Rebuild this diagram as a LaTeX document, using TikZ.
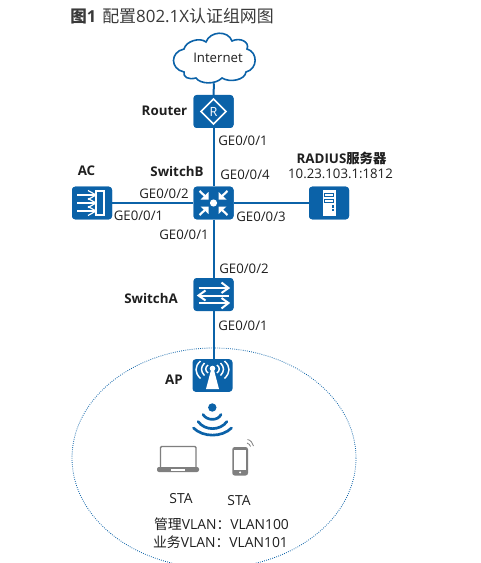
\documentclass[tikz,border=0pt]{standalone}
\usepackage{fontspec}
\setmainfont{Open Sans}
\newfontfamily\cjk{Noto Sans CJK SC}
\definecolor{hw}{HTML}{0B62A8}
\definecolor{txt}{HTML}{1F1F1F}
\definecolor{titlec}{HTML}{3A3A3A}
\definecolor{stag}{HTML}{7F7F7F}
\tikzset{
  x=0.75pt,y=-0.75pt,
  device/.style={fill=hw,rounded corners=2.4pt,minimum width=30pt,minimum height=24.5pt,inner sep=0pt},
  link/.style={draw=hw,line width=1.5pt},
  lab/.style={font=\fontsize{9.9pt}{11pt}\selectfont,text=txt,inner sep=0pt},
  vlab/.style={font=\fontsize{10.4pt}{12pt}\selectfont,text=txt,inner sep=0pt},
  blab/.style={font=\fontsize{10pt}{11pt}\selectfont\bfseries,text=txt,inner sep=0pt},
  glyph/.style={draw=white,line width=1.3pt,fill=none},
  gray/.style={draw=stag,line width=1.1pt,fill=none},
  wave/.style={draw=hw,line width=2pt,line cap=round,fill=none}
}
\begin{document}
\begin{tikzpicture}
\useasboundingbox (0,0) rectangle (480,563);
\fill[white] (0,0) rectangle (480,563);
\begin{scope}
\clip (0,0) rectangle (480,563);
\draw[hw,line width=0.6pt,densely dotted] (214,458) ellipse [x radius=142,y radius=110];
\end{scope}

% nodes
\node[inner sep=0pt,minimum width=61.5pt,minimum height=37.5pt] (inet) at (214,58) {};
\node[device] (router) at (213.5,111.5) {};
\node[device] (swb) at (213.5,203) {};
\node[device] (ac) at (92,203) {};
\node[device] (srv) at (329,203) {};
\node[device] (swa) at (213.5,294.5) {};
\node[device] (ap) at (212.5,375.5) {};

% connectors
\draw[link] (inet.south) -- (router.north);
\draw[link] (router) -- (swb);
\draw[link] (swb) -- (swa);
\draw[link] (swa.south) -- (swa.south |- ap.north);
\draw[link] (ac) -- (swb);
\draw[link] (swb) -- (srv);
% boxes above the lines
\fill[hw,rounded corners=2.4pt] (193.5,95) rectangle (233.5,128);
\fill[hw,rounded corners=2.4pt] (193.5,186.7) rectangle (233.5,219.3);
\fill[hw,rounded corners=2.4pt] (72,186.7) rectangle (112,219.3);
\fill[hw,rounded corners=2.4pt] (309,186.7) rectangle (349,219.3);
\fill[hw,rounded corners=2.4pt] (193.5,278) rectangle (233.5,311);

% cloud
\draw[hw,line width=1.2pt,fill=white]
 (184,72) .. controls (170,69) and (170,52) .. (184,49)
 .. controls (186,41) and (200,37) .. (206,42)
 .. controls (210,31) and (228,30) .. (232,41)
 .. controls (240,37) and (250,42) .. (247,49)
 .. controls (258,52) and (258,69) .. (246,72)
 .. controls (245,80) and (230,83) .. (222,78)
 .. controls (215,85) and (200,84) .. (196,78)
 .. controls (188,80) and (183,77) .. (184,72) -- cycle;
\node[lab] at (218,58) {Internet};

% router glyph
\begin{scope}[shift={(router.center)}]
\draw[glyph,line width=1.2pt] (0,-12.5) -- (12.5,0) -- (0,12.5) -- (-12.5,0) -- cycle;
\node[inner sep=0pt,text=white,font=\fontsize{9.5pt}{10pt}\selectfont] at (0,0) {R};
\end{scope}

% SwitchB glyph
\begin{scope}[shift={(swb.center)}]
\fill[white] (0,0) circle (3.6);
\foreach \sx/\sy in {1/1,-1/1,1/-1,-1/-1}{
  \draw[white,line width=1.6pt] (\sx*14,\sy*12) -- (\sx*7,\sy*5.5);
  \fill[white] (\sx*5,\sy*3.5) -- (\sx*13,\sy*3.5) -- (\sx*5,\sy*11) -- cycle;
}
\end{scope}

% AC glyph
\begin{scope}[shift={(ac.center)}]
\draw[white,line width=1.2pt] (4,-12) rectangle (12,12);
\foreach \yy in {-8,0,8}{
  \draw[white,line width=1.2pt] (-15,\yy) -- (4,\yy);
  \draw[white,line width=0.9pt] (-4,\yy-4.5) -- (4,\yy) -- (-4,\yy+4.5);
}
\end{scope}

% server glyph
\begin{scope}[shift={(srv.center)}]
\fill[white] (-6.5,-13) rectangle (6.5,12.5);
\draw[hw,line width=0.8pt] (-4.5,-9.5) rectangle (4.5,-6.5);
\draw[hw,line width=0.8pt] (-4.5,-3.5) rectangle (4.5,-0.5);
\fill[hw] (2.5,2) rectangle (5,4.5);
\fill[hw] (2.5,6) rectangle (5,8);
\end{scope}

% SwitchA glyph
\begin{scope}[shift={(swa.center)}]
\draw[white,line width=1.5pt] (-15,-6.5) -- (14,-6.5);
\draw[white,line width=1.5pt] (8,-12) -- (15,-6.5) -- (8,-1.5);
\draw[white,line width=1.5pt] (15,1) -- (-14,1);
\draw[white,line width=1.5pt] (-8,-4) -- (-15,1) -- (-8,6);
\draw[white,line width=1.5pt] (-15,8.5) -- (14,8.5);
\draw[white,line width=1.5pt] (8,3.5) -- (15,8.5) -- (8,14);
\end{scope}

% AP glyph
\begin{scope}[shift={(ap.center)}]
\fill[white] (0,-7) circle (2.8);
\fill[white] (-1.6,-5) -- (1.6,-5) -- (6.5,13.5) -- (-6.5,13.5) -- cycle;
\foreach \s in {1,-1}{
  \draw[white,line width=1.1pt] (\s*4.5,-10.5) .. controls (\s*7.5,-8) and (\s*7.5,-5) .. (\s*4.5,-2.5);
  \draw[white,line width=1.1pt] (\s*8,-12.5) .. controls (\s*12,-8.5) and (\s*12,-4) .. (\s*8,0);
  \draw[white,line width=1.1pt] (\s*12,-14.5) .. controls (\s*18,-9) and (\s*18,-3) .. (\s*12,3);
}
\end{scope}

% wifi
\fill[hw] (212.3,407.5) circle (4.2);
\draw[wave] (203,414.5) .. controls (207,421) and (218,421) .. (221,414.5);
\draw[wave] (198,421.5) .. controls (205,431) and (220,431) .. (227,421.5);
\draw[wave] (193.5,428) .. controls (203,437.5) and (222,437.5) .. (231.5,428);

% laptop
\draw[gray,rounded corners=0.8pt] (160.5,467) -- (160.5,446.5) -- (196,446.5) -- (196,467);
\fill[stag,rounded corners=1.5pt] (157,467) rectangle (199,472);
\fill[white] (171,468.5) rectangle (185,470.5);

% phone
\fill[stag,rounded corners=1.8pt] (232.3,447) rectangle (248,475.5);
\fill[white] (234,450) rectangle (246.3,469.5);
\fill[white] (240.1,472.4) circle (1.1);
\draw[stag,line width=0.6pt] (247,443) .. controls (249,443.5) and (250,445) .. (250.5,446.5);
\draw[stag,line width=0.6pt] (247.5,439.5) .. controls (250.5,440) and (253,443) .. (253.5,446);

% title
\node[anchor=west,inner sep=0pt,text=titlec,font=\fontsize{12.4pt}{14pt}\selectfont\bfseries] (ttl) at (70,16.5) {{\cjk\bfseries 图}1};
\node[anchor=west,inner sep=0pt,text=titlec,font=\fontsize{12.7pt}{15pt}\selectfont] (ttl2) at (102,16.5) {{\cjk 配置}802.1X{\cjk 认证组网图}};

% labels
\node[blab] at (164.5,110.5) {Router};
\node[blab] at (86.5,171) {AC};
\node[blab] at (177,171) {SwitchB};
\node[blab] at (341.5,158) {RADIUS{\cjk\bfseries 服务器}};
\node[lab] at (340.5,174) {10.23.103.1:1812};
\node[blab] at (151,298) {SwitchA};
\node[blab] at (174,380) {AP};
\node[lab] at (243,141) {GE0/0/1};
\node[lab] at (245,175) {GE0/0/4};
\node[lab] at (164,194) {GE0/0/2};
\node[lab] at (138.5,216) {GE0/0/1};
\node[lab] at (261,217) {GE0/0/3};
\node[lab] at (184,235) {GE0/0/1};
\node[lab] at (244,269) {GE0/0/2};
\node[lab] at (243,326) {GE0/0/1};
\node[vlab] at (181,499) {STA};
\node[vlab] at (239,501) {STA};
\node[vlab] at (221.5,524) {{\cjk 管理}VLAN{\cjk ：}VLAN100};
\node[vlab] at (220.5,542) {{\cjk 业务}VLAN{\cjk ：}VLAN101};
\end{tikzpicture}
\end{document}
